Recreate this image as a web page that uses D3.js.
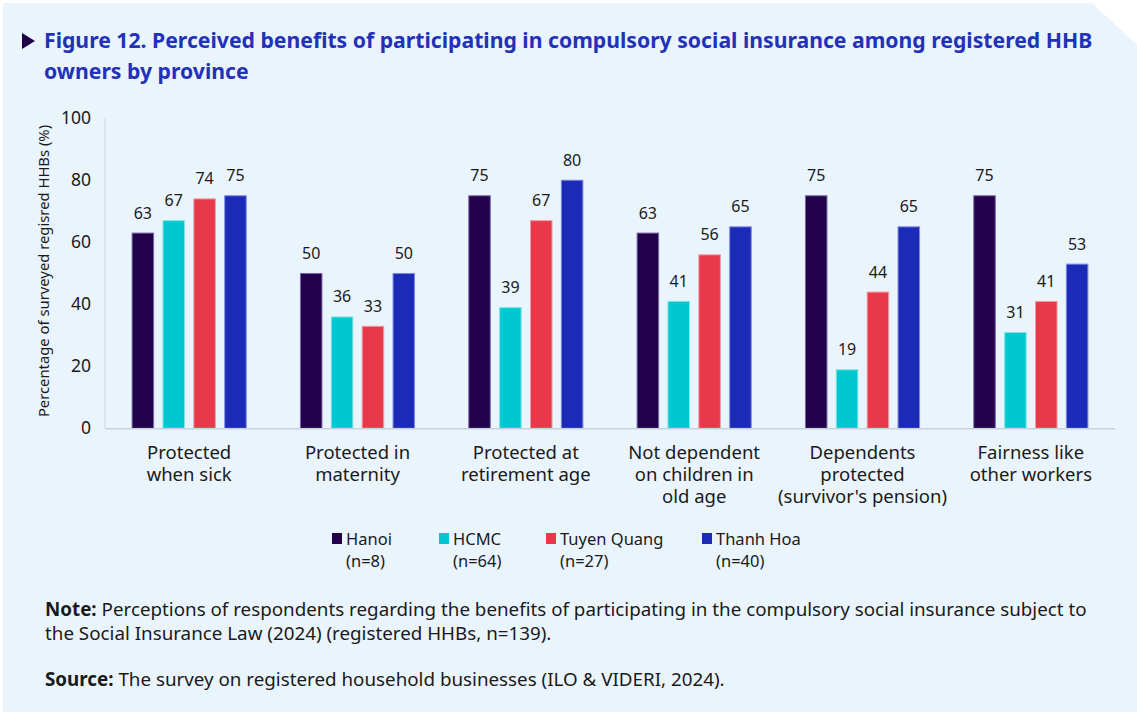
<!DOCTYPE html>
<html>
<head>
<meta charset="utf-8">
<script src="https://cdn.jsdelivr.net/npm/d3@7"></script>
<style>
  html, body { margin: 0; padding: 0; background: #ffffff; }
  svg { display: block; font-family: "Noto Sans", "Open Sans", sans-serif; }
</style>
</head>
<body>
<svg id="chart" width="1137" height="715"></svg>
<script>
// Benefit categories (x-axis, multi-line labels)
const categories = [
  ["Protected", "when sick"],
  ["Protected in", "maternity"],
  ["Protected at", "retirement age"],
  ["Not dependent", "on children in", "old age"],
  ["Dependents", "protected", "(survivor's pension)"],
  ["Fairness like", "other workers"]
];

// Provinces and sample sizes
const provinces = ["Hanoi", "HCMC", "Tuyen Quang", "Thanh Hoa"];
const sampleSizes = ["(n=8)", "(n=64)", "(n=27)", "(n=40)"];

// Percentage of registered HHBs per benefit, one array per province
const hanoi      = [63, 50, 75, 63, 75, 75];
const hcmc       = [67, 36, 39, 41, 19, 31];
const tuyenQuang = [74, 33, 67, 56, 44, 41];
const thanhHoa   = [75, 50, 80, 65, 65, 53];

const yTicks = [0, 20, 40, 60, 80, 100];

const colors = ["#22004a", "#00c8d0", "#e8394a", "#1b2bb8"];
const strokes = ["#7a6aa8", "#7fe6ea", "#f39aa3", "#7f8ae0"];

const seriesValues = [hanoi, hcmc, tuyenQuang, thanhHoa];

const svg = d3.select("#chart");

// Light blue panel with clipped top-right corner
svg.append("path")
  .attr("d", "M3,3 L1092,3 L1137,45 L1137,712 L3,712 Z")
  .attr("fill", "#eaf4fd");

// Title
svg.append("path")
  .attr("d", "M22,33 L35,41 L22,49 Z")
  .attr("fill", "#1f0047");
const title = svg.append("text")
  .attr("fill", "#2331b9")
  .attr("font-weight", "bold")
  .attr("font-size", 21.2);
title.append("tspan").attr("x", 44).attr("y", 48)
  .text("Figure 12. Perceived benefits of participating in compulsory social insurance among registered HHB");
title.append("tspan").attr("x", 44).attr("y", 79)
  .text("owners by province");

// Plot area
const plotL = 105, plotR = 1115, plotT = 117.6, plotB = 428.3;

const x0 = d3.scaleBand()
  .domain(d3.range(categories.length))
  .range([plotL, plotR])
  .paddingInner(0.316)
  .paddingOuter(0.158);

const x1 = d3.scaleBand()
  .domain(d3.range(provinces.length))
  .range([0, x0.bandwidth()])
  .paddingInner(0.27)
  .paddingOuter(0);

const y = d3.scaleLinear().domain([0, 100]).range([plotB, plotT]);

// Y axis line and ticks
svg.append("line")
  .attr("x1", plotL).attr("x2", plotL)
  .attr("y1", plotT).attr("y2", plotB)
  .attr("stroke", "#d0d8e2").attr("stroke-width", 1);

const yAxis = d3.axisLeft(y).tickValues(yTicks).tickSize(0).tickPadding(14);
const yg = svg.append("g").attr("transform", `translate(${plotL},0)`).call(yAxis);
yg.select(".domain").remove();
yg.selectAll("text")
  .attr("font-size", 17.5)
  .attr("fill", "#1a1a1a")
  .attr("font-family", "'Noto Sans', sans-serif");

// Y axis title
svg.append("text")
  .attr("transform", `translate(49,271) rotate(-90)`)
  .attr("text-anchor", "middle")
  .attr("font-size", 14.8)
  .attr("fill", "#1a1a1a")
  .text("Percentage of surveyed regisred HHBs (%)");

// Bars
const groups = svg.append("g").selectAll("g")
  .data(categories.map((c, i) => i))
  .join("g")
  .attr("transform", i => `translate(${x0(i)},0)`);

groups.selectAll("rect")
  .data(i => seriesValues.map((s, k) => ({ k, v: s[i] })))
  .join("rect")
  .attr("x", d => x1(d.k) + 0.5)
  .attr("y", d => y(d.v) + 0.5)
  .attr("width", x1.bandwidth() - 1)
  .attr("height", d => y(0) - y(d.v) - 0.5)
  .attr("fill", d => colors[d.k])
  .attr("stroke", d => strokes[d.k])
  .attr("stroke-width", 1);

groups.selectAll("text.val")
  .data(i => seriesValues.map((s, k) => ({ k, v: s[i] })))
  .join("text")
  .attr("class", "val")
  .attr("x", d => x1(d.k) + x1.bandwidth() / 2)
  .attr("y", d => y(d.v) - 14)
  .attr("text-anchor", "middle")
  .attr("font-size", 16)
  .attr("fill", "#1a1a1a")
  .text(d => d.v);

// X axis baseline
svg.append("line")
  .attr("x1", plotL).attr("x2", plotR)
  .attr("y1", plotB + 0.5).attr("y2", plotB + 0.5)
  .attr("stroke", "#c8d2de").attr("stroke-width", 1.5);

// Category labels
const xl = svg.append("g").selectAll("text")
  .data(categories)
  .join("text")
  .attr("text-anchor", "middle")
  .attr("font-size", 18.5)
  .attr("fill", "#1a1a1a");
xl.each(function (lines, i) {
  const t = d3.select(this);
  lines.forEach((ln, j) => {
    t.append("tspan")
      .attr("x", x0(i) + x0.bandwidth() / 2)
      .attr("y", 459 + j * 22)
      .text(ln);
  });
});

// Legend
const legendX = [332, 439, 546, 702];
const leg = svg.append("g").selectAll("g")
  .data(provinces)
  .join("g")
  .attr("transform", (d, i) => `translate(${legendX[i]},533)`);
leg.append("rect")
  .attr("width", 10).attr("height", 11)
  .attr("fill", (d, i) => colors[i]);
leg.append("text")
  .attr("x", 14).attr("y", 12)
  .attr("font-size", 16.5).attr("fill", "#1a1a1a")
  .text(d => d);
leg.append("text")
  .attr("x", 14).attr("y", 34)
  .attr("font-size", 16.5).attr("fill", "#1a1a1a")
  .text((d, i) => sampleSizes[i]);

// Note and source
const note = svg.append("text").attr("font-size", 18.8).attr("fill", "#1a1a1a");
const n1 = note.append("tspan").attr("x", 45).attr("y", 616);
n1.append("tspan").attr("font-weight", "bold").text("Note:");
n1.append("tspan").text(" Perceptions of respondents regarding the benefits of participating in the compulsory social insurance subject to");
note.append("tspan").attr("x", 45).attr("y", 640)
  .text("the Social Insurance Law (2024) (registered HHBs, n=139).");

const src = svg.append("text").attr("font-size", 18.8).attr("fill", "#1a1a1a")
  .attr("x", 45).attr("y", 686);
src.append("tspan").attr("font-weight", "bold").text("Source:");
src.append("tspan").text(" The survey on registered household businesses (ILO & VIDERI, 2024).");
</script>
</body>
</html>
